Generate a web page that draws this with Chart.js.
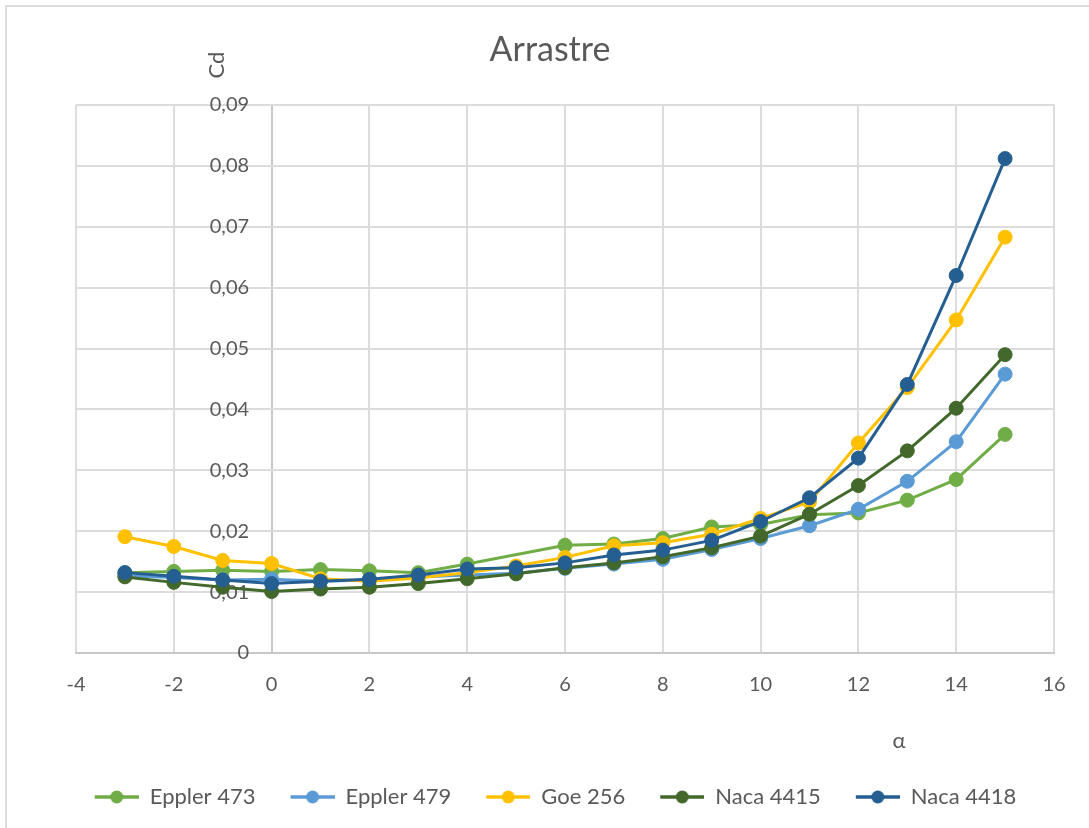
<!DOCTYPE html>
<html>
<head>
<meta charset="utf-8">
<title>Arrastre</title>
<script src="https://cdn.jsdelivr.net/npm/chart.js@4.4.1/dist/chart.umd.min.js"></script>
<style>
  html, body { margin: 0; padding: 0; background: #ffffff; }
  #wrap { width: 1089px; height: 828px; position: relative; }
</style>
</head>
<body>
<div id="wrap"><canvas id="chart" width="1089" height="828"></canvas></div>
<script>
// Angle of attack (α) and drag coefficient (Cd) per airfoil
const alpha = [-3, -2, -1, 0, 1, 2, 3, 4, 5, 6, 7, 8, 9, 10, 11, 12, 13, 14, 15];
const cdEppler473 = [0.0132, 0.0134, 0.0136, 0.0134, 0.0137, 0.0135, 0.0132, 0.0146, null, 0.0177, 0.0179, 0.0188, 0.0207, 0.0211, 0.0227, 0.0230, 0.0251, 0.0285, 0.0359];
const cdEppler479 = [0.0127, 0.0124, 0.0120, 0.0121, 0.0118, 0.0120, 0.0125, 0.0128, 0.0131, 0.0139, 0.0146, 0.0154, 0.0170, 0.0188, 0.0209, 0.0236, 0.0282, 0.0347, 0.0458];
const cdGoe256 = [0.0191, 0.0175, 0.0152, 0.0147, 0.0122, 0.0118, 0.0123, 0.0132, 0.0143, 0.0157, 0.0176, 0.0181, 0.0195, 0.0221, 0.0248, 0.0345, 0.0436, 0.0547, 0.0683];
const cdNaca4415 = [0.0125, 0.0116, 0.0108, 0.0101, 0.0105, 0.0108, 0.0114, 0.0122, 0.0130, 0.0140, 0.0148, 0.0158, 0.0173, 0.0192, 0.0228, 0.0275, 0.0332, 0.0402, 0.0490];
const cdNaca4418 = [0.0132, 0.0126, 0.0120, 0.0114, 0.0118, 0.0121, 0.0128, 0.0138, 0.0140, 0.0148, 0.0161, 0.0169, 0.0185, 0.0216, 0.0255, 0.0320, 0.0441, 0.0620, 0.0812];

const seriesNames = ['Eppler 473', 'Eppler 479', 'Goe 256', 'Naca 4415', 'Naca 4418'];
const seriesColors = ['#70AD47', '#5B9BD5', '#FFC000', '#43682B', '#255E91'];
const seriesValues = [cdEppler473, cdEppler479, cdGoe256, cdNaca4415, cdNaca4418];

// Axis ticks
const xTickMin = -4, xTickMax = 16, xTickStep = 2;
const yTickMin = 0, yTickMax = 0.09, yTickStep = 0.01;

const textColor = '#595959';
const gridColor = '#dcdcdc';
const axisColor = '#c8c8c8';

function toPoints(values) {
  const pts = [];
  values.forEach((v, i) => { if (v !== null) pts.push({ x: alpha[i], y: v }); });
  return pts;
}

// Legend swatch: line segment with a marker in its middle (left part kept empty as spacing)
function makeLegendIcon(color) {
  const c = document.createElement('canvas');
  c.width = 73; c.height = 16;
  const g = c.getContext('2d');
  g.strokeStyle = color;
  g.lineWidth = 3.5;
  g.beginPath(); g.moveTo(29, 8); g.lineTo(73, 8); g.stroke();
  g.fillStyle = color;
  g.beginPath(); g.arc(51, 8, 6.5, 0, Math.PI * 2); g.fill();
  return c;
}
const legendIcons = seriesColors.map(makeLegendIcon);

const datasets = seriesNames.map((name, i) => ({
  label: name,
  data: toPoints(seriesValues[i]),
  borderColor: seriesColors[i],
  backgroundColor: seriesColors[i],
  pointBackgroundColor: seriesColors[i],
  pointBorderColor: seriesColors[i],
  borderWidth: 3,
  pointRadius: 7,
  pointBorderWidth: 1,
  tension: 0,
  order: seriesNames.length - i
}));

// Chart frame, rotated y title and the α label
const decorations = {
  id: 'decorations',
  afterLayout(chart) {
    if (chart.titleBlock) { chart.titleBlock.left -= 15; chart.titleBlock.right -= 15; }
    if (chart.legend) { chart.legend.left -= 24; chart.legend.right -= 24; }
  },
  beforeDraw(chart) {
    const ctx = chart.ctx;
    ctx.save();
    ctx.strokeStyle = gridColor;
    ctx.lineWidth = 2;
    ctx.beginPath();
    ctx.moveTo(6, chart.height + 5);
    ctx.lineTo(6, 6);
    ctx.lineTo(chart.width + 5, 6);
    ctx.stroke();
    ctx.restore();
  },
  afterDraw(chart) {
    const ctx = chart.ctx;
    ctx.save();
    ctx.fillStyle = textColor;
    ctx.font = '22px Lato, "DejaVu Sans", sans-serif';
    ctx.textAlign = 'center';
    ctx.textBaseline = 'middle';
    ctx.save();
    ctx.translate(217, 65);
    ctx.rotate(-Math.PI / 2);
    ctx.fillText('Cd', 0, 0);
    ctx.restore();
    ctx.fillText('α', 899, 741);
    ctx.restore();
  }
};

Chart.defaults.font.family = 'Lato, "DejaVu Sans", sans-serif';
Chart.defaults.color = textColor;

new Chart(document.getElementById('chart'), {
  type: 'line',
  data: { datasets },
  options: {
    responsive: false,
    devicePixelRatio: 1,
    animation: false,
    layout: { padding: { left: 76, right: 35, top: 0, bottom: 10 } },
    scales: {
      x: {
        type: 'linear',
        min: xTickMin,
        max: xTickMax,
        afterFit(scale) { scale.height = 127; },
        ticks: { stepSize: xTickStep, padding: 20, font: { size: 20 }, color: textColor },
        grid: {
          drawTicks: false,
          color: (ctx) => (ctx.tick && ctx.tick.value === 0 ? axisColor : gridColor),
          lineWidth: 2
        },
        border: { display: true, color: axisColor, width: 2 }
      },
      y: {
        type: 'linear',
        position: { x: -0.46 },
        min: yTickMin,
        max: yTickMax,
        ticks: {
          stepSize: yTickStep,
          padding: 0,
          font: { size: 20 },
          color: textColor,
          callback: (v) => (Math.abs(v) < 1e-9 ? '0' : Number(v).toFixed(2).replace('.', ','))
        },
        grid: { drawTicks: false, color: gridColor, lineWidth: 2 },
        border: { display: false }
      }
    },
    plugins: {
      title: {
        display: true,
        text: 'Arrastre',
        color: textColor,
        font: { size: 34, weight: 'normal' },
        padding: { top: 30, bottom: 34.2 }
      },
      legend: {
        display: true,
        position: 'bottom',
        labels: {
          usePointStyle: true,
          pointStyleWidth: 73,
          padding: 6,
          color: textColor,
          font: { size: 22 },
          sort: (a, b) => a.datasetIndex - b.datasetIndex,
          generateLabels(chart) {
            const items = Chart.defaults.plugins.legend.labels.generateLabels(chart);
            items.forEach((it) => { it.pointStyle = legendIcons[it.datasetIndex]; });
            return items;
          }
        }
      },
      tooltip: { enabled: false }
    }
  },
  plugins: [decorations]
});
</script>
</body>
</html>
